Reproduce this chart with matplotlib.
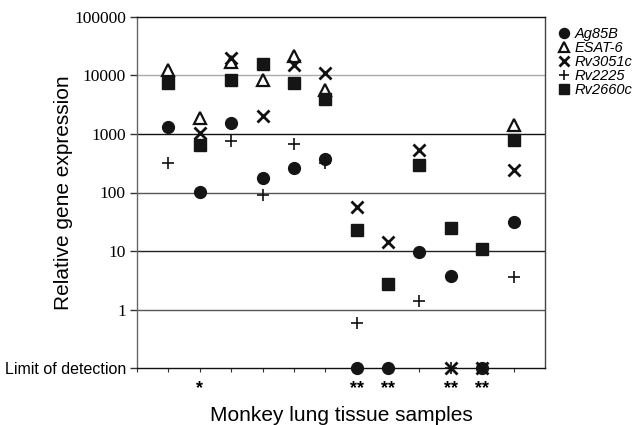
import numpy as np
import matplotlib
matplotlib.use('Agg')
import matplotlib.pyplot as plt

# values below detection are plotted on the "Limit of detection" line
LOD = 0.1
nan = np.nan

samples = np.arange(1, 13)
ag85b = [1300, 104, 1520, 175, 260, 370, LOD, LOD, 9.5, 3.7, LOD, 31]
esat6 = [12600, 1900, 17000, 8500, 21300, 5700, nan, nan, nan, nan, nan, 1420]
rv3051c = [nan, 1020, 20000, 2040, 14900, 11000, 56, 14.2, 530, LOD, LOD, 240]
rv2225 = [315, nan, 770, 91, 675, 315, 0.59, nan, 1.39, LOD, nan, 3.6]
rv2660c = [7300, 650, 8300, 15500, 7500, 3900, 23, 2.74, 290, 25, 11, 790]

signif = ['', '*', '', '', '', '', '**', '**', '', '**', '**', '']

ytick_vals = [LOD, 1, 10, 100, 1000, 10000, 100000]
ytick_labels = ['Limit of detection', '1', '10', '100', '1000', '10000', '100000']

plt.rcParams['font.family'] = ['Liberation Sans', 'DejaVu Sans']

fig = plt.figure(figsize=(6.39, 4.25), dpi=100)
ax = fig.add_axes([137 / 639, 1 - 368 / 425, 408 / 639, 351 / 425])

ax.set_yscale('log')
ax.set_ylim(LOD, 100000)
ax.set_xlim(0, 13)

# decade lines, alternating dark / grey like the original
grid_colors = ['#555555', '#222222', '#555555', '#111111', '#aaaaaa']
for v, c in zip(ytick_vals[1:-1], grid_colors):
    ax.axhline(v, color=c, lw=1.0, zorder=1)

ms = 8.5
ax.plot(samples, ag85b, 'o', ms=ms, color='#151515', ls='none',
        label='Ag85B', clip_on=False, zorder=3)
ax.plot(samples, esat6, '^', ms=ms, mfc='white', mec='#111111', mew=1.6,
        ls='none', label='ESAT-6', clip_on=False, zorder=3)
ax.plot(samples, rv3051c, 'x', ms=ms, mew=2.0, color='#111111', ls='none',
        label='Rv3051c', clip_on=False, zorder=3)
ax.plot(samples, rv2225, '+', ms=9, mew=1.2, color='#111111', ls='none',
        label='Rv2225', clip_on=False, zorder=3)
ax.plot(samples, rv2660c, 's', ms=8, color='#151515', ls='none',
        label='Rv2660c', clip_on=False, zorder=3)

for x, s in zip(samples, signif):
    if s:
        ax.text(x, -0.06, s, transform=ax.get_xaxis_transform(),
                ha='center', va='center', fontsize=13, fontweight='bold')

ax.set_yticks(ytick_vals)
ax.set_yticklabels(ytick_labels)
ax.yaxis.set_minor_locator(matplotlib.ticker.NullLocator())
for lbl in ax.get_yticklabels():
    if lbl.get_text() == 'Limit of detection':
        lbl.set_fontsize(11.5)
    else:
        lbl.set_family('Liberation Serif')
        lbl.set_fontsize(12.5)
ax.tick_params(axis='y', length=5, width=1, pad=3, color='#333333')

ax.set_xticks(np.arange(0, 13))
ax.set_xticklabels([])
ax.tick_params(axis='x', length=3, width=0.8, color='#333333')

for side in ['top', 'bottom']:
    ax.spines[side].set_color('#111111')
ax.spines['left'].set_color('#666666')
ax.spines['right'].set_color('#444444')
for sp in ax.spines.values():
    sp.set_linewidth(1.0)

ax.set_ylabel('Relative gene expression', fontsize=15)
ax.yaxis.set_label_coords(-0.157, 0.5)
ax.set_xlabel('Monkey lung tissue samples', fontsize=15)
ax.xaxis.set_label_coords(0.5, -0.107)

leg = ax.legend(loc='upper left', bbox_to_anchor=(552 / 639, 1 - 20 / 425),
                bbox_transform=fig.transFigure, frameon=False,
                prop={'style': 'italic', 'size': 10.5}, handlelength=0.7,
                handletextpad=0.35, labelspacing=0.0, borderpad=0,
                markerscale=0.85)

fig.savefig('out.png', dpi=100)
